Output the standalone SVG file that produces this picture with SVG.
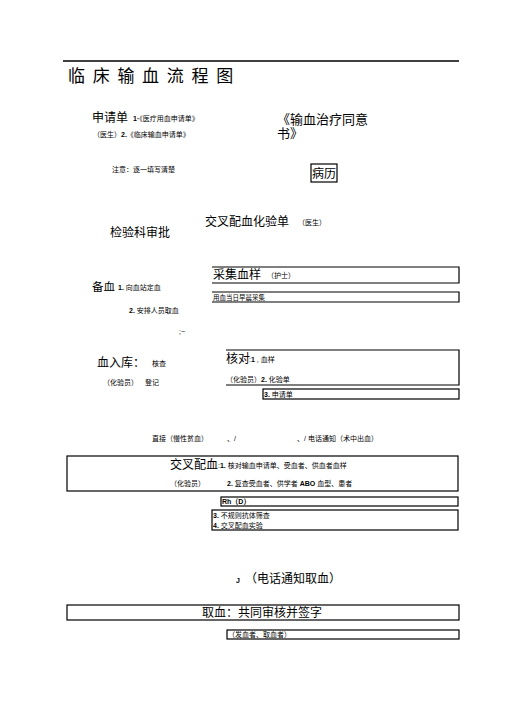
<svg xmlns="http://www.w3.org/2000/svg" width="505" height="714" viewBox="0 0 505 714">
<style>
text{font-family:"Liberation Sans","Noto Sans CJK SC",sans-serif;fill:#000}
.big{font-size:12px}
.sm{font-size:7px}
.b{font-weight:bold}
.box{fill:none;stroke:#000;stroke-width:1.2}
</style>
<rect width="505" height="714" fill="#fff"/>
<line x1="63" y1="61" x2="459" y2="61" stroke="#000" stroke-width="1.3"/>
<text x="68" y="82" style="font-size:17px;letter-spacing:7.7px">临床输血流程图</text>

<g id="request">
<text class="big" x="92" y="122">申请单</text>
<text class="sm" x="133" y="121"><tspan class="b">1·</tspan>《医疗用血申请单》</text>
<text class="sm" x="93" y="137">（医生）<tspan class="b">2.</tspan>《临床输血申请单》</text>
<text class="sm" x="112" y="172">注意：逐一填写清楚</text>
</g>
<g id="consent">
<text x="277" y="124" style="font-size:13px">《输血治疗同意</text>
<text x="277" y="138" style="font-size:13px">书》</text>
</g>
<g id="record">
<rect class="box" x="311" y="164" width="26" height="18"/>
<text class="big" x="312" y="178">病历</text>
</g>
<g id="approve">
<text class="big" x="110" y="237">检验科审批</text>
</g>
<g id="crossform">
<text class="big" x="205" y="226">交叉配血化验单</text>
<text class="sm" x="298" y="225">（医生）</text>
</g>
<g id="prepare">
<text x="92" y="291" style="font-size:11.5px">备血</text>
<text class="sm" x="118" y="290"><tspan class="b">1.</tspan> 向血站定血</text>
<text class="sm" x="129" y="313"><tspan class="b">2.</tspan> 安排人员取血</text>
<text class="sm" x="179" y="334">;−</text>
</g>
<g id="sample">
<path class="box" d="M212 267H459V283H212"/>
<text class="big" x="213" y="279">采集血样</text>
<text class="sm" x="267" y="278">（护士）</text>
<path class="box" d="M212 292H459V302H212"/>
<text x="213" y="300" style="font-size:6.5px">用血当日早晨采集</text>
</g>
<g id="storage">
<text class="big" x="97" y="367">血入库：</text>
<text class="sm" x="152" y="366">核查</text>
<text class="sm" x="103" y="385">（化验员）</text>
<text class="sm" x="145" y="385">登记</text>
</g>
<g id="check">
<path class="box" d="M226 350H459V385H226"/>
<text class="big" x="226" y="363">核对</text>
<text class="sm" x="249" y="362">:<tspan class="b">1</tspan> , 血样</text>
<text class="sm" x="226" y="382">（化验员）<tspan class="b">2.</tspan> 化验单</text>
<rect class="box" x="263" y="389" width="196" height="10"/>
<text class="sm" x="264" y="397"><tspan class="b">3.</tspan> 申请单</text>
</g>
<g id="notify">
<text class="sm" x="152" y="441">直接（慢性贫血）</text>
<text class="sm" x="227" y="441">、/</text>
<text class="sm" x="297" y="441">、/ 电话通知（术中出血）</text>
</g>
<g id="crossmatch">
<rect class="box" x="67" y="456" width="391" height="35"/>
<text class="big" x="170" y="469">交叉配血</text>
<text class="sm" x="218" y="468">:<tspan class="b">1.</tspan> 核对输血申请单、受血者、供血者血样</text>
<text class="sm" x="170" y="486">（化验员）</text>
<text class="sm" x="227" y="486"><tspan class="b">2.</tspan> 复查受血者、供学者 <tspan class="b">ABO</tspan> 血型、患者</text>
<rect class="box" x="221" y="497" width="237" height="9"/>
<text class="sm b" x="222" y="504">Rh（D）</text>
<rect class="box" x="212" y="510" width="246" height="20"/>
<text class="sm" x="213" y="518"><tspan class="b">3.</tspan>  不规则抗体筛查</text>
<text class="sm" x="213" y="528"><tspan class="b">4.</tspan>  交叉配血实验</text>
</g>
<g id="phone">
<text class="sm b" x="236" y="583">J</text>
<text class="big" x="245" y="583">（电话通知取血）</text>
</g>
<g id="collect">
<rect class="box" x="67" y="605" width="392" height="15"/>
<text class="big" x="202" y="617">取血：共同审核并签字</text>
<rect class="box" x="227" y="630" width="232" height="9"/>
<text class="sm" x="228" y="637">（发血者、取血者）</text>
</g>
<g id="connectors"/>
</svg>
